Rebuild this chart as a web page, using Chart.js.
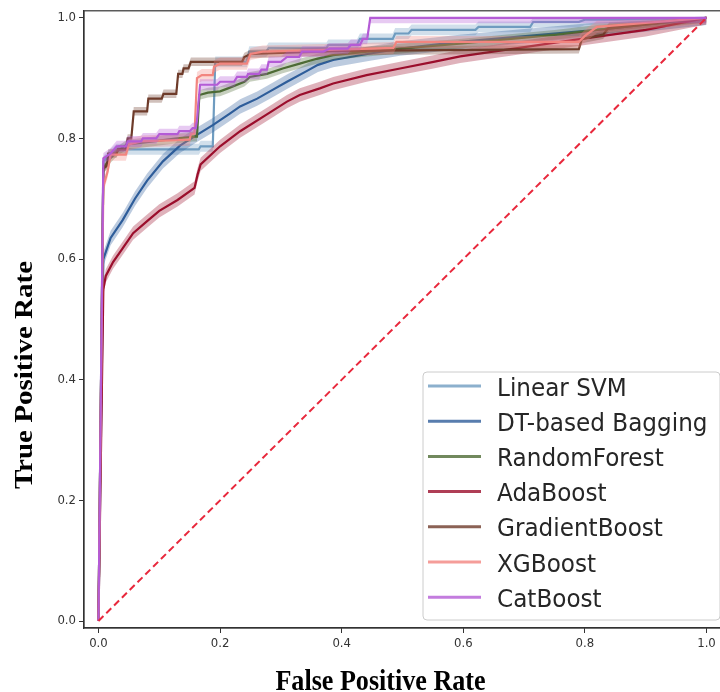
<!DOCTYPE html>
<html><head><meta charset="utf-8">
<script src="https://cdn.jsdelivr.net/npm/chart.js@4"></script>
<style>html,body{margin:0;padding:0;background:#fff;overflow:hidden;width:720px;height:692px}
#wrap{width:724px;height:692px;position:relative}</style>
</head><body><div id="wrap"><canvas id="c" width="724" height="692"></canvas></div>
<script>
// ---------- data ----------
const modelNames = ['Linear SVM','DT-based Bagging','RandomForest','AdaBoost','GradientBoost','XGBoost','CatBoost'];

const fprLinearSVM = [0,0.008,0.018,0.03,0.165,0.168,0.188,0.192,0.244,0.248,0.276,0.28,0.375,0.378,0.425,0.43,0.484,0.488,0.51,0.515,0.62,0.625,0.71,0.715,0.79,0.8,0.85,1];
const tprLinearSVM = [0,0.762,0.772,0.782,0.782,0.787,0.787,0.927,0.927,0.944,0.944,0.95,0.95,0.955,0.955,0.965,0.965,0.974,0.974,0.98,0.98,0.985,0.985,0.993,0.993,0.997,0.997,1];

const fprBagging = [0,0.008,0.02,0.04,0.06,0.08,0.106,0.134,0.162,0.188,0.216,0.233,0.261,0.282,0.31,0.343,0.361,0.386,0.442,0.496,0.594,0.82,1];
const tprBagging = [0,0.6,0.635,0.665,0.7,0.73,0.762,0.788,0.806,0.822,0.841,0.853,0.866,0.878,0.894,0.912,0.922,0.93,0.94,0.949,0.96,0.98,1];

const fprRandomForest = [0,0.008,0.019,0.03,0.047,0.09,0.129,0.155,0.162,0.166,0.18,0.2,0.213,0.24,0.249,0.277,0.303,0.331,0.359,0.386,0.442,0.496,0.594,0.754,0.82,1];
const tprRandomForest = [0,0.75,0.767,0.778,0.79,0.795,0.8,0.803,0.803,0.872,0.876,0.878,0.883,0.894,0.902,0.907,0.916,0.924,0.932,0.938,0.944,0.949,0.957,0.972,0.98,1];

const fprAdaBoost = [0,0.008,0.012,0.024,0.04,0.057,0.08,0.1,0.13,0.158,0.163,0.168,0.2,0.233,0.277,0.31,0.331,0.364,0.386,0.441,0.496,0.551,0.595,0.78,0.9,1];
const tprAdaBoost = [0,0.55,0.572,0.595,0.618,0.643,0.663,0.68,0.698,0.718,0.74,0.757,0.787,0.812,0.84,0.861,0.872,0.883,0.891,0.905,0.916,0.927,0.936,0.963,0.98,1];

const fprGradientBoost = [0,0.008,0.014,0.016,0.03,0.032,0.045,0.048,0.054,0.058,0.08,0.082,0.104,0.107,0.128,0.131,0.138,0.14,0.148,0.152,0.236,0.24,0.25,0.4,0.79,0.795,0.83,0.84,1];
const tprGradientBoost = [0,0.75,0.755,0.775,0.775,0.782,0.782,0.8,0.8,0.845,0.845,0.866,0.866,0.874,0.874,0.907,0.907,0.916,0.916,0.927,0.927,0.935,0.94,0.945,0.948,0.965,0.972,0.985,1];

const fprXGBoost = [0,0.008,0.015,0.02,0.045,0.05,0.07,0.15,0.152,0.158,0.162,0.17,0.188,0.19,0.2,0.244,0.25,0.27,0.42,0.485,0.49,0.79,0.8,0.82,1];
const tprXGBoost = [0,0.72,0.745,0.773,0.773,0.79,0.795,0.798,0.808,0.808,0.9,0.905,0.905,0.919,0.924,0.924,0.94,0.944,0.948,0.95,0.96,0.96,0.97,0.985,1];

const fprCatBoost = [0,0.008,0.02,0.03,0.045,0.048,0.07,0.073,0.095,0.1,0.13,0.133,0.15,0.155,0.16,0.162,0.167,0.195,0.2,0.223,0.228,0.244,0.246,0.264,0.268,0.277,0.28,0.3,0.31,0.33,0.335,0.37,0.38,0.41,0.415,0.43,0.435,0.442,0.447,1];
const tprCatBoost = [0,0.767,0.775,0.787,0.787,0.795,0.795,0.8,0.8,0.807,0.807,0.812,0.812,0.817,0.817,0.83,0.889,0.889,0.894,0.894,0.902,0.902,0.907,0.907,0.914,0.914,0.927,0.927,0.935,0.935,0.944,0.944,0.949,0.949,0.955,0.955,0.965,0.965,1,1];

// half-width of the shaded band around each mean curve
const bandHalfWidth = [0.009,0.012,0.008,0.011,0.007,0.01,0.009];

const chanceFpr = [0,1];
const chanceTpr = [0,1];

const xTicks = [0,0.2,0.4,0.6,0.8,1.0];
const yTicks = [0,0.2,0.4,0.6,0.8,1.0];
const xTitle = 'False Positive Rate';
const yTitle = 'True Positive Rate';

// ---------- styles ----------
const lineColors = ['#6f9cc0','#2e5d9a','#4d6b35','#9b0e2c','#6e3b2a','#f2857f','#b45bd6'];
function rgba(hex,a){const n=parseInt(hex.slice(1),16);return `rgba(${n>>16&255},${n>>8&255},${n&255},${a})`;}

const series = [
  [fprLinearSVM,tprLinearSVM],[fprBagging,tprBagging],[fprRandomForest,tprRandomForest],
  [fprAdaBoost,tprAdaBoost],[fprGradientBoost,tprGradientBoost],[fprXGBoost,tprXGBoost],[fprCatBoost,tprCatBoost]
];

const datasets = [];
series.forEach(([fpr,tpr],i)=>{
  const hw = bandHalfWidth[i];
  datasets.push({data: fpr.map((x,j)=>({x, y: tpr[j]-hw})), borderWidth:0, borderColor:'rgba(0,0,0,0)', pointRadius:0, fill:false});
  datasets.push({data: fpr.map((x,j)=>({x, y: Math.min(1, tpr[j]+hw)})), borderWidth:0, borderColor:'rgba(0,0,0,0)', pointRadius:0, fill:'-1', backgroundColor: rgba(lineColors[i],0.32)});
  datasets.push({label: modelNames[i], data: fpr.map((x,j)=>({x, y: tpr[j]})), borderColor: lineColors[i], borderWidth:2.2, pointRadius:0, fill:false});
});
datasets.push({data: chanceFpr.map((x,j)=>({x,y:chanceTpr[j]})), borderColor:'#e8283c', borderWidth:2, borderDash:[7,4], pointRadius:0, fill:false});
datasets.forEach((d,i)=>{d.order = datasets.length - i; d.tension = 0;});

const tickFont = {family:"'DejaVu Sans Condensed','DejaVu Sans',sans-serif", size:13};

const framePlugin = {
  id:'frame',
  afterDraw(chart){
    const {ctx, chartArea:a} = chart;
    ctx.save();
    ctx.strokeStyle='#333'; ctx.lineWidth=1.2;
    ctx.strokeRect(a.left, a.top, a.right-a.left, a.bottom-a.top);
    // axis titles
    ctx.fillStyle='#000';
    ctx.font="bold 29px 'Liberation Serif','Times New Roman',serif";
    ctx.textAlign='center'; ctx.textBaseline='alphabetic';
    ctx.save(); ctx.translate(380.5,690); ctx.scale(0.9,1); ctx.fillText(xTitle,0,0); ctx.restore();
    ctx.save(); ctx.translate(32,375); ctx.rotate(-Math.PI/2); ctx.scale(1,0.9); ctx.fillText(yTitle,0,0); ctx.restore();
    // legend
    const bx=423, by=372, bw=297, bh=248, r=4;
    ctx.beginPath();
    ctx.moveTo(bx+r,by); ctx.lineTo(bx+bw-r,by); ctx.arcTo(bx+bw,by,bx+bw,by+r,r);
    ctx.lineTo(bx+bw,by+bh-r); ctx.arcTo(bx+bw,by+bh,bx+bw-r,by+bh,r);
    ctx.lineTo(bx+r,by+bh); ctx.arcTo(bx,by+bh,bx,by+bh-r,r);
    ctx.lineTo(bx,by+r); ctx.arcTo(bx,by,bx+r,by,r); ctx.closePath();
    ctx.fillStyle='rgba(255,255,255,0.85)'; ctx.fill();
    ctx.strokeStyle='#cccccc'; ctx.lineWidth=1; ctx.stroke();
    ctx.font="25px 'DejaVu Sans',sans-serif";
    ctx.textAlign='left';
    modelNames.forEach((name,i)=>{
      const yc = 386 + i*35.2;
      ctx.strokeStyle = rgba(lineColors[i],0.8); ctx.lineWidth=3;
      ctx.beginPath(); ctx.moveTo(428,yc); ctx.lineTo(481,yc); ctx.stroke();
      ctx.fillStyle='#262626';
      ctx.save(); ctx.translate(497, yc+9.5); ctx.scale(0.925,1); ctx.fillText(name,0,0); ctx.restore();
    });
    ctx.restore();
  }
};

new Chart(document.getElementById('c'), {
  type:'line',
  data:{datasets},
  options:{
    responsive:false, animation:false, devicePixelRatio:1,
    layout:{padding:{top:9,right:2,left:0,bottom:0}},
    plugins:{legend:{display:false}, tooltip:{enabled:false}},
    scales:{
      x:{type:'linear', min:-0.0238, max:1.0255,
        afterBuildTicks:s=>{s.ticks = xTicks.map(v=>({value:v}));},
        afterFit:s=>{s.height=64;},
        grid:{display:true, drawOnChartArea:false, drawTicks:true, tickLength:5, color:'#333'},
        border:{display:true, color:'#333', width:1.2},
        ticks:{color:'#333', font:tickFont, padding:3, maxRotation:0, autoSkip:false, callback:v=>Number(v).toFixed(1)}
      },
      y:{type:'linear', min:-0.0116, max:1.0116,
        afterBuildTicks:s=>{s.ticks = yTicks.map(v=>({value:v}));},
        afterFit:s=>{s.width=84;},
        grid:{display:true, drawOnChartArea:false, drawTicks:true, tickLength:5, color:'#333'},
        border:{display:true, color:'#333', width:1.2},
        ticks:{color:'#333', font:tickFont, padding:3, autoSkip:false, callback:v=>Number(v).toFixed(1)}
      }
    }
  },
  plugins:[framePlugin]
});
</script></body></html>
